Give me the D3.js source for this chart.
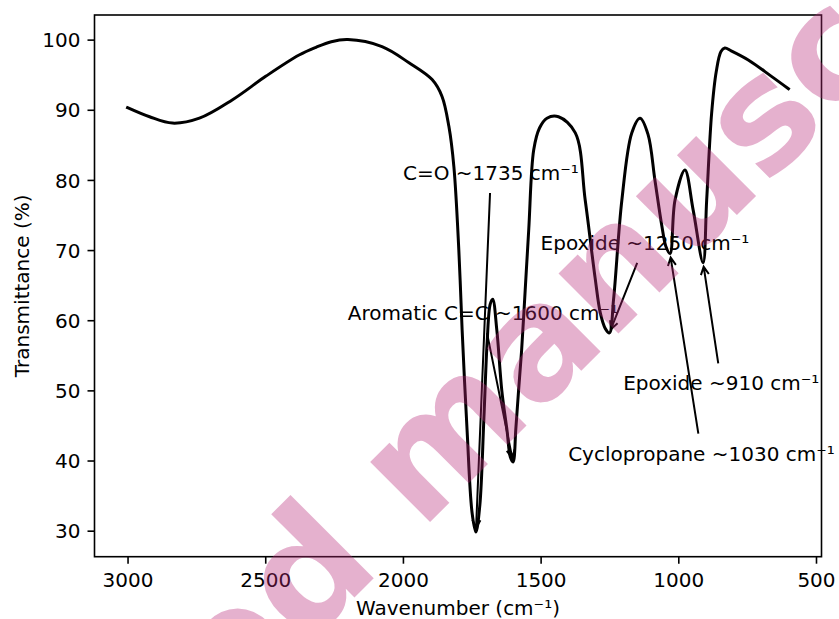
<!DOCTYPE html>
<html>
<head>
<meta charset="utf-8">
<script src="https://cdn.jsdelivr.net/npm/d3@7"></script>
<style>
  body { margin: 0; background: #fff; }
  svg { display: block; }
  text { font-family: "DejaVu Sans", sans-serif; }
</style>
</head>
<body>
<svg id="chart" width="839" height="619"></svg>
<script>
// FTIR spectrum: wavenumber (cm⁻¹) against transmittance (%)
const wavenumber = [
  3000, 2920, 2837, 2739, 2620, 2497, 2377, 2316, 2260, 2200, 2076, 1978, 1894, 1858,
  1833, 1815, 1797, 1785, 1767, 1749, 1735, 1721, 1706, 1694, 1683, 1674,
  1659, 1641, 1622, 1610, 1600, 1590, 1580, 1569, 1556, 1543, 1525, 1504, 1477, 1435,
  1374, 1338, 1302, 1283, 1265, 1250, 1235, 1205, 1169, 1139,
  1110, 1085, 1060, 1045, 1030, 1012, 976, 946, 910, 897, 879, 862, 845, 831, 808,
  746, 663, 600
];
const transmittance = [
  90.3, 89.0, 88.1, 88.8, 91.4, 94.8, 97.8, 98.9, 99.7, 100.0, 99.0, 96.7, 94.3, 91.9,
  87.6, 81.9, 70.0, 58.6, 44.3, 32.6, 29.8, 33.5, 46.0, 57.0, 62.3, 63.0,
  58.6, 50.0, 44.3, 40.5, 39.8, 44.5, 50.0, 55.7, 64.3, 73.0, 84.3, 87.4, 88.8, 89.0,
  86.7, 77.1, 66.0, 61.0, 58.8, 58.2, 63.0, 77.1, 86.7, 88.8,
  86.5, 80.0, 73.5, 70.5, 69.5, 77.1, 81.4, 75.7, 68.2, 77.1, 89.5, 95.5, 98.3, 98.8, 98.4,
  97.1, 94.8, 93.0
];

const xTicks = [3000, 2500, 2000, 1500, 1000, 500];
const yTicks = [30, 40, 50, 60, 70, 80, 90, 100];

// Band assignments: label text, band position, and where the label sits
const bandLabels = [
  "C=O ~1735 cm⁻¹",
  "Aromatic C=C ~1600 cm⁻¹",
  "Epoxide ~1250 cm⁻¹",
  "Cyclopropane ~1030 cm⁻¹",
  "Epoxide ~910 cm⁻¹"
];
const bandWavenumbers = [1735, 1600, 1250, 1030, 910];
const labelWavenumbers = [2000, 2200, 1500, 1400, 1200];
const labelTransmittance = [80, 60, 70, 40, 50];

const watermarkText = "Accepted manuscript";

// ---- layout ----
const pt = 2.0;                  // pixels per point
const fontPx = 10 * pt;
const plot = { left: 94.5, right: 821.5, top: 15, bottom: 556.7 };

const svg = d3.select("#chart");
svg.append("rect").attr("width", 839).attr("height", 619).attr("fill", "#fff");

const xExt = d3.extent(wavenumber);
const yExt = d3.extent(transmittance);
const xPad = (xExt[1] - xExt[0]) * 0.05;
const yPad = (yExt[1] - yExt[0]) * 0.05;

const x = d3.scaleLinear()
  .domain([xExt[1] + xPad, xExt[0] - xPad])
  .range([plot.left, plot.right]);
const y = d3.scaleLinear()
  .domain([yExt[0] - yPad, yExt[1] + yPad])
  .range([plot.bottom, plot.top]);

const tickLen = 3.5 * pt;
const tickPad = 3.5 * pt;

// x axis
const gx = svg.append("g")
  .attr("transform", `translate(0,${plot.bottom})`)
  .call(d3.axisBottom(x).tickValues(xTicks).tickFormat(d3.format("d"))
    .tickSize(tickLen).tickPadding(tickPad));
gx.select(".domain").remove();
gx.selectAll(".tick line").attr("stroke", "#000").attr("stroke-width", 0.8 * pt);
gx.selectAll(".tick text")
  .attr("y", 30).attr("dy", null)
  .attr("fill", "#000").style("font-size", fontPx + "px").style("font-family", "DejaVu Sans");

// y axis
const gy = svg.append("g")
  .attr("transform", `translate(${plot.left},0)`)
  .call(d3.axisLeft(y).tickValues(yTicks).tickFormat(d3.format("d"))
    .tickSize(tickLen).tickPadding(tickPad));
gy.select(".domain").remove();
gy.selectAll(".tick line").attr("stroke", "#000").attr("stroke-width", 0.8 * pt);
gy.selectAll(".tick text")
  .attr("dy", "0.36em")
  .attr("fill", "#000").style("font-size", fontPx + "px").style("font-family", "DejaVu Sans");

// axis titles
svg.append("text")
  .attr("x", (plot.left + plot.right) / 2).attr("y", 614.5)
  .attr("text-anchor", "middle").style("font-size", fontPx + "px")
  .text("Wavenumber (cm⁻¹)");
svg.append("text")
  .attr("transform", `translate(28.5,${(plot.top + plot.bottom) / 2}) rotate(-90)`)
  .attr("text-anchor", "middle").style("font-size", fontPx + "px")
  .text("Transmittance (%)");

// spectrum trace
const points = wavenumber.map((w, i) => [w, transmittance[i]]);
const line = d3.line().x(d => x(d[0])).y(d => y(d[1])).curve(d3.curveCatmullRom.alpha(0.5));
svg.append("path")
  .datum(points)
  .attr("d", line)
  .attr("fill", "none")
  .attr("stroke", "#000")
  .attr("stroke-width", 1.5 * pt)
  .attr("stroke-linejoin", "round")
  .attr("stroke-linecap", "square");

// frame
svg.append("rect")
  .attr("x", plot.left).attr("y", plot.top)
  .attr("width", plot.right - plot.left).attr("height", plot.bottom - plot.top)
  .attr("fill", "none").attr("stroke", "#000").attr("stroke-width", 0.8 * pt);

// band annotations with arrows
const annG = svg.append("g");
bandLabels.forEach((label, i) => {
  const bw = bandWavenumbers[i];
  const bt = transmittance[wavenumber.indexOf(bw)];
  const px = x(bw), py = y(bt);

  const t = annG.append("text")
    .attr("x", x(labelWavenumbers[i]))
    .attr("y", y(labelTransmittance[i]))
    .style("font-size", fontPx + "px")
    .attr("fill", "#000")
    .text(label);
  const bb = t.node().getBBox();
  const pad = 2 * pt;
  const cx = bb.x + bb.width / 2, cy = bb.y + bb.height / 2;
  const hw = bb.width / 2 + pad, hh = bb.height / 2 + pad;
  const dx = px - cx, dy = py - cy;
  const len = Math.hypot(dx, dy);
  const ux = dx / len, uy = dy / len;
  const tExit = Math.min(Math.abs(dx) > 1e-9 ? hw / Math.abs(dx) : Infinity,
                         Math.abs(dy) > 1e-9 ? hh / Math.abs(dy) : Infinity);
  const shrink = 2 * pt;
  const sx = cx + dx * tExit + ux * shrink, sy = cy + dy * tExit + uy * shrink;
  const ex = px - ux * shrink, ey = py - uy * shrink;
  const headL = 0.4 * fontPx, headW = 0.2 * fontPx;
  const nx = -uy, ny = ux;
  const bx = ex - ux * headL, by = ey - uy * headL;

  annG.append("path")
    .attr("d", `M${sx},${sy}L${ex},${ey}` +
               `M${bx + nx * headW},${by + ny * headW}L${ex},${ey}L${bx - nx * headW},${by - ny * headW}`)
    .attr("fill", "none").attr("stroke", "#000").attr("stroke-width", 1 * pt)
    .attr("stroke-linejoin", "miter");
});

// watermark across the figure
svg.append("text")
  .attr("transform", "translate(464,488) rotate(-45)")
  .attr("text-anchor", "middle")
  .style("font-family", "DejaVu Sans, sans-serif")
  .style("font-weight", "bold")
  .style("font-size", "155px")
  .attr("fill", "rgb(183,40,118)")
  .attr("fill-opacity", 0.36)
  .text(watermarkText);
</script>
</body>
</html>
